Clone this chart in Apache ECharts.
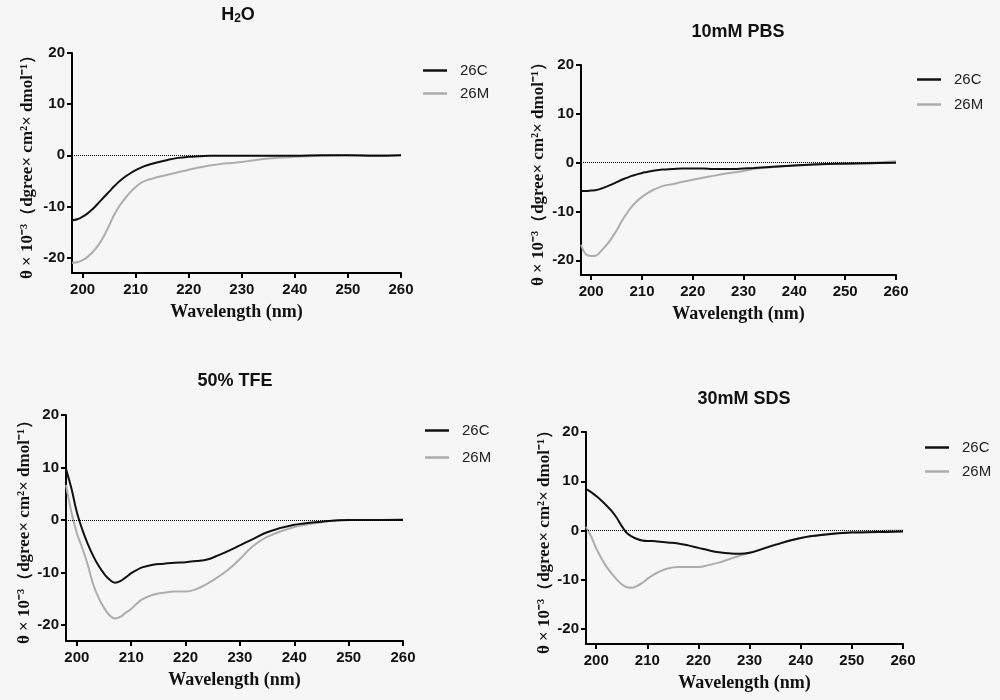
<!DOCTYPE html>
<html>
<head>
<meta charset="utf-8">
<title>CD spectra</title>
<script src="https://cdn.jsdelivr.net/npm/echarts@6/dist/echarts.min.js"></script>
<style>
  html, body { margin: 0; padding: 0; background: #f6f6f6; }
  #chart { width: 1000px; height: 700px; }
</style>
</head>
<body>
<div id="chart"></div>
<script>
// 波长（nm）
var wavelength = [198, 199, 200, 201, 202, 203, 204, 205, 206, 207, 208, 209, 210, 211, 212, 214, 216, 218, 220, 222, 224, 226, 228, 230, 232, 235, 240, 245, 250, 255, 260];

// H2O
var h2o26C = [-12.7, -12.5, -12.0, -11.3, -10.4, -9.3, -8.2, -7.1, -6.0, -5.0, -4.2, -3.5, -2.9, -2.4, -2.0, -1.4, -0.9, -0.5, -0.3, -0.2, -0.1, -0.1, -0.1, -0.1, -0.1, -0.1, -0.1, 0, 0, -0.1, 0];
var h2o26M = [-21.0, -20.9, -20.5, -19.8, -18.8, -17.5, -15.8, -13.7, -11.5, -9.8, -8.4, -7.2, -6.2, -5.4, -4.9, -4.3, -3.8, -3.3, -2.8, -2.4, -2.0, -1.7, -1.5, -1.3, -1.0, -0.6, -0.3, -0.1, 0, 0, 0];
// 10mM PBS
var pbs26C = [-5.8, -5.8, -5.7, -5.6, -5.3, -4.9, -4.5, -4.0, -3.5, -3.1, -2.7, -2.4, -2.1, -1.9, -1.7, -1.4, -1.3, -1.2, -1.2, -1.2, -1.3, -1.3, -1.3, -1.2, -1.1, -0.9, -0.6, -0.3, -0.2, -0.1, 0];
var pbs26M = [-16.8, -18.8, -19.1, -19.0, -18.0, -16.9, -15.5, -13.9, -12.0, -10.4, -9.0, -7.9, -7.0, -6.3, -5.7, -4.8, -4.4, -3.9, -3.5, -3.1, -2.7, -2.3, -2.0, -1.7, -1.3, -1.0, -0.6, -0.3, -0.1, 0, 0.3];
// 50% TFE
var tfe26C = [9.7, 6.0, 1.5, -1.8, -4.5, -6.8, -8.7, -10.2, -11.3, -11.9, -11.6, -10.9, -10.1, -9.5, -9.0, -8.5, -8.3, -8.1, -8.0, -7.8, -7.5, -6.7, -5.8, -4.8, -3.8, -2.3, -0.9, -0.3, 0, 0, 0];
var tfe26M = [6.7, 1.5, -2.5, -5.3, -8.5, -12.2, -14.8, -16.7, -18.1, -18.7, -18.4, -17.6, -16.9, -15.9, -15.1, -14.2, -13.8, -13.6, -13.6, -13.1, -12.1, -10.8, -9.3, -7.4, -5.3, -3.2, -1.3, -0.4, 0, 0, 0.2];
// 30mM SDS
var sds26C = [8.4, 7.8, 7.0, 6.1, 5.1, 4.0, 2.6, 0.9, -0.5, -1.2, -1.7, -2.0, -2.1, -2.1, -2.2, -2.4, -2.6, -3.0, -3.5, -4.0, -4.4, -4.6, -4.7, -4.5, -3.9, -2.9, -1.5, -0.8, -0.4, -0.3, -0.2];
var sds26M = [0.8, -1.2, -3.6, -5.6, -7.3, -8.7, -9.9, -10.9, -11.5, -11.6, -11.2, -10.6, -9.8, -9.1, -8.5, -7.7, -7.4, -7.4, -7.4, -7.0, -6.5, -5.8, -5.1, -4.5, -3.8, -2.8, -1.5, -0.7, -0.3, -0.1, 0];

var xTicks = [200, 210, 220, 230, 240, 250, 260];
var yTicks = [-20, -10, 0, 10, 20];
var seriesNames = ['26C', '26M'];
var panelTitles = ['{n|H}{s|2}{n|O}', '10mM PBS', '50% TFE', '30mM SDS'];

// 每个子图的位置
var panels = [
    {grid: [72, 53, 329, 220], title: [238, 5], legend: [423, 63, 8], nameGap: 36, data: [h2o26C, h2o26M]},
    {grid: [581, 65, 315, 210], title: [738, 23], legend: [917, 72, 10], nameGap: 34, data: [pbs26C, pbs26M]},
    {grid: [66, 415, 337, 226], title: [235, 372], legend: [425, 423, 12], nameGap: 30, data: [tfe26C, tfe26M]},
    {grid: [586, 432, 317, 212], title: [744, 390], legend: [925, 440, 9], nameGap: 33, data: [sds26C, sds26M]}
];

var colors = ['#111111', '#adadad'];

function pairs(values) {
    return wavelength.map(function (w, i) { return [w, values[i]]; });
}

var chart = echarts.init(document.getElementById('chart'));

var option = {
    backgroundColor: '#f6f6f6',
    animation: false,
    title: [],
    legend: [],
    grid: [],
    xAxis: [],
    yAxis: [],
    series: []
};

panels.forEach(function (p, i) {
    option.grid.push({left: p.grid[0], top: p.grid[1], width: p.grid[2], height: p.grid[3], containLabel: false});

    option.title.push({
        text: panelTitles[i],
        left: p.title[0],
        top: p.title[1],
        textAlign: 'center',
        padding: 0,
        textStyle: {
            fontFamily: 'Liberation Sans, Arial',
            fontWeight: 'bold',
            fontSize: 18,
            color: '#111',
            rich: {
                n: {fontFamily: 'Liberation Sans, Arial', fontWeight: 'bold', fontSize: 18, color: '#111'},
                s: {fontFamily: 'Liberation Sans, Arial', fontWeight: 'bold', fontSize: 12, color: '#111', padding: [8, 0, 0, 0]}
            }
        }
    });

    option.legend.push({
        data: seriesNames,
        orient: 'vertical',
        left: p.legend[0],
        top: p.legend[1],
        itemGap: p.legend[2],
        icon: 'rect',
        itemWidth: 24,
        itemHeight: 2.5,
        padding: 0,
        selectedMode: false,
        textStyle: {fontFamily: 'Liberation Sans, Arial', fontSize: 15, color: '#222', padding: [0, 0, 0, 8]}
    });

    option.xAxis.push({
        type: 'value',
        gridIndex: i,
        min: 198,
        max: 260,
        name: 'Wavelength (nm)',
        nameLocation: 'middle',
        nameGap: 30,
        nameTextStyle: {fontFamily: 'Liberation Serif, Times New Roman', fontWeight: 'bold', fontSize: 18, color: '#111'},
        axisLine: {show: true, onZero: false, lineStyle: {color: '#000', width: 2}},
        axisTick: {show: true, customValues: xTicks, length: 5, lineStyle: {color: '#000', width: 2}},
        axisLabel: {customValues: xTicks, margin: 9, fontFamily: 'Liberation Sans, Arial', fontWeight: 'bold', fontSize: 15, color: '#111'},
        splitLine: {show: false}
    });

    option.yAxis.push({
        type: 'value',
        gridIndex: i,
        min: -23,
        max: 20,
        name: 'θ × 10⁻³（dgree× cm²× dmol⁻¹）',
        nameLocation: 'middle',
        nameRotate: 90,
        nameGap: p.nameGap,
        nameTextStyle: {fontFamily: 'Liberation Serif, Times New Roman', fontWeight: 'bold', fontSize: 17, color: '#111'},
        axisLine: {show: true, onZero: false, lineStyle: {color: '#000', width: 2}},
        axisTick: {show: true, customValues: yTicks, length: 5, lineStyle: {color: '#000', width: 2}},
        axisLabel: {customValues: yTicks, margin: 7, fontFamily: 'Liberation Sans, Arial', fontWeight: 'bold', fontSize: 15, color: '#111'},
        splitLine: {show: false}
    });

    p.data.forEach(function (values, k) {
        var s = {
            name: seriesNames[k],
            type: 'line',
            xAxisIndex: i,
            yAxisIndex: i,
            data: pairs(values),
            smooth: 0.4,
            symbol: 'none',
            showSymbol: false,
            color: colors[k],
            lineStyle: {color: colors[k], width: 2},
            z: 3 - k
        };
        if (k === 0) {
            //零线（虚线）
            s.markLine = {
                silent: true,
                symbol: ['none', 'none'],
                label: {show: false},
                lineStyle: {type: 'dotted', color: '#000', width: 1},
                data: [{yAxis: 0}]
            };
        }
        option.series.push(s);
    });
});

chart.setOption(option);
</script>
</body>
</html>
